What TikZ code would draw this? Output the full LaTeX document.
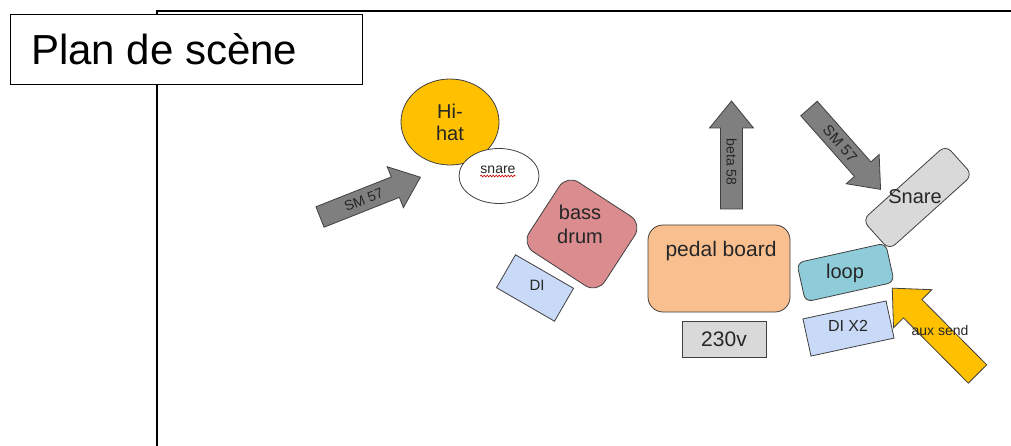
\documentclass[tikz,border=0pt]{standalone}
\usepackage{xcolor}
\usepackage{fontspec}
\setmainfont{Liberation Sans}
\usetikzlibrary{arrows, positioning, shapes.geometric, decorations.pathmorphing}

\definecolor{hihatgelb}{HTML}{FFC000}
\definecolor{bassrot}{HTML}{DA8C8E}
\definecolor{pedalorange}{HTML}{F9BF8F}
\definecolor{loopblau}{HTML}{8FCCD9}
\definecolor{diblau}{HTML}{C9DAF8}
\definecolor{kastengrau}{HTML}{D9D9D9}
\definecolor{pfeilgrau}{HTML}{7F7F7F}

\tikzset{
	kontur/.style={draw=black!75, line width=0.8pt},
	kasten/.style={kontur, rectangle, inner sep=0pt},
	beschriftung/.style={text=black!85, inner sep=0pt},
	mittel/.style={font=\fontsize{20}{24}\selectfont},
	klein/.style={font=\fontsize{14}{16}\selectfont},
	mikro len/.store in=\mikrolen, mikro len=108,
	mikro schaft/.store in=\mikroschaft, mikro schaft=11,
	mikro kopf/.store in=\mikrokopf, mikro kopf=22,
	mikro spitze/.store in=\mikrospitze, mikro spitze=27,
	mikro farbe/.store in=\mikrofarbe, mikro farbe=pfeilgrau,
	mikrotext/.style={},
	mikro/.pic={
		\draw[kontur, fill=\mikrofarbe] (0,-\mikroschaft) --
			({\mikrolen-\mikrospitze},-\mikroschaft) --
			({\mikrolen-\mikrospitze},-\mikrokopf) -- (\mikrolen,0) --
			({\mikrolen-\mikrospitze},\mikrokopf) --
			({\mikrolen-\mikrospitze},\mikroschaft) -- (0,\mikroschaft) -- cycle;
		\node[beschriftung, klein, transform shape, mikrotext] (-text) at (47,0)
			{\tikzpictext};
	}
}

\begin{document}
\begin{tikzpicture}[x=1pt, y=-1pt]
	\useasboundingbox[fill=white] (0,0) rectangle (1011,446);
	% Rahmen
	\draw[
		line width=1.3pt
	] (157,446) -- (157,11) -- (1011,11);
	% Titel
	\node[
		draw,
		line width=1.2pt,
		fill=white,
		minimum width=352,
		minimum height=70,
		anchor=north west
	] (titel) at (10,14) {};
	\node[
		inner sep=0pt,
		anchor=base west,
		font=\fontsize{42}{50}\selectfont
	] (titeltext) at (31,65) {Plan de scène};
	% Hi-hat
	\node[
		ellipse,
		kontur,
		fill=hihatgelb,
		minimum width=98,
		minimum height=86,
		inner sep=0pt,
		align=center,
		text=black!85,
		font=\fontsize{20}{22}\selectfont
	] (hihat) at (450,122) {Hi-\\hat};
	% snare (klein)
	\node[
		ellipse,
		kontur,
		fill=white,
		minimum width=80,
		minimum height=55
	] (snareklein) at (499,176) {};
	\node[
		beschriftung,
		klein
	] (snarekleintext) at (498,170) {snare};
	\draw[
		red!80!black,
		line width=0.6pt,
		decorate,
		decoration={snake, amplitude=0.9pt, segment length=3pt}
	] ([yshift=-2]snarekleintext.south west) -- ([yshift=-2]snarekleintext.south east);
	% SM 57 (links)
	\pic[
		rotate=21.6,
		pic text=SM 57
	] (sm57links) at (320,217) {mikro};
	% DI (bass)
	\node[
		kasten,
		fill=diblau,
		rotate=-30,
		minimum width=67,
		minimum height=38
	] (dibass) at (535,288) {};
	\node[
		beschriftung,
		font=\fontsize{15}{17}\selectfont
	] (dibasstext) at (537,285) {DI};
	% bass drum
	\node[
		kasten,
		fill=bassrot,
		rotate=-33,
		rounded corners=14,
		minimum width=90,
		minimum height=83
	] (bassdrum) at (582,234) {};
	\node[
		beschriftung,
		mittel,
		align=center
	] (bassdrumtext) at (580,224) {bass\\drum};
	% pedal board
	\node[
		kasten,
		fill=pedalorange,
		rounded corners=15,
		minimum width=142,
		minimum height=87
	] (pedalboard) at (719,268.5) {};
	\node[
		beschriftung,
		font=\fontsize{21}{24}\selectfont
	] (pedalboardtext) at (721,251) {pedal board};
	% 230v
	\node[
		kasten,
		fill=kastengrau,
		minimum width=84,
		minimum height=36,
		font=\fontsize{21}{24}\selectfont,
		text=black!85
	] (strom) at (724,339) {230v};
	% beta 58
	\pic[
		rotate=90,
		pic text=beta 58,
		mikrotext/.style={rotate=180}
	] (beta) at (731.5,209) {mikro};
	% SM 57 (rechts)
	\pic[
		rotate=-48.5,
		pic text=SM 57,
		mikrotext/.style={font=\fontsize{15}{17}\selectfont}
	] (sm57rechts) at (809,108.5) {mikro};
	% loop
	\node[
		kasten,
		fill=loopblau,
		rotate=12.5,
		rounded corners=7,
		minimum width=91,
		minimum height=40
	] (loop) at (845.5,272.5) {};
	\node[
		beschriftung,
		mittel
	] (looptext) at (845,273) {loop};
	% Snare
	\node[
		kasten,
		fill=kastengrau,
		rotate=42,
		rounded corners=8,
		minimum width=112,
		minimum height=40
	] (snare) at (917.5,197.5) {};
	\node[
		beschriftung,
		mittel
	] (snaretext) at (915,197) {Snare};
	% DI X2
	\node[
		kasten,
		fill=diblau,
		rotate=12.2,
		minimum width=85,
		minimum height=38
	] (dix2) at (848.5,328.5) {};
	\node[
		beschriftung,
		font=\fontsize{16}{18}\selectfont
	] (dix2text) at (848,326) {DI X2};
	% aux send
	\pic[
		rotate=134.8,
		mikro farbe=hihatgelb,
		pic text=,
		mikro len=121,
		mikro schaft=13,
		mikro kopf=27,
		mikro spitze=29
	] (aux) at (977.5,374) {mikro};
	\node[
		beschriftung,
		klein
	] (auxtext) at (940,330) {aux send};
\end{tikzpicture}
\end{document}
